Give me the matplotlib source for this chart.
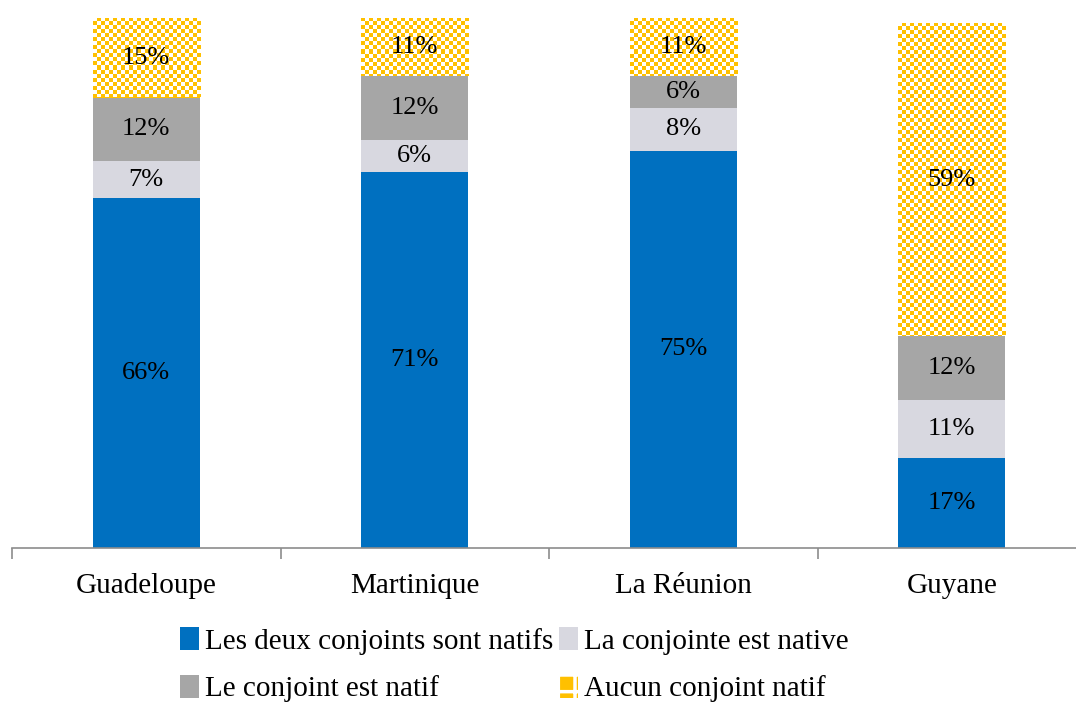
"""
Couples selon le statut de natif des conjoints, par territoire (DOM).
Barres empilées à 100 %, motif damier pour "Aucun conjoint natif".
"""
import numpy as np
import matplotlib; matplotlib.use("Agg")
import matplotlib.pyplot as plt
from matplotlib.colors import ListedColormap
from matplotlib.patches import Patch

# ── Données ────────────────────────────────────────────────────────────────────
territoires      = ["Guadeloupe", "Martinique", "La Réunion", "Guyane"]
deux_natifs      = [66, 71, 75, 17]
conjointe_native = [7, 6, 8, 11]
conjoint_natif   = [12, 12, 6, 12]
aucun_natif      = [15, 11, 11, 59]

noms = ["Les deux conjoints sont natifs", "La conjointe est native",
        "Le conjoint est natif", "Aucun conjoint natif"]
series = [deux_natifs, conjointe_native, conjoint_natif, aucun_natif]

C_BLEU  = "#0070C0"
C_CLAIR = "#D8D8E0"
C_GRIS  = "#A6A6A6"
C_JAUNE = "#FFC000"
couleurs = [C_BLEU, C_CLAIR, C_GRIS, C_JAUNE]

plt.rcParams["font.family"] = ["Liberation Serif", "DejaVu Serif"]
plt.rcParams["hatch.linewidth"] = 2.5

FS_TXT, FS_VAL = 21, 19
W, H, DPI = 1076, 702, 100
fig = plt.figure(figsize=(W / DPI, H / DPI), dpi=DPI, facecolor="white")
# l'axe déborde à droite, comme dans l'original recadré
ax = fig.add_axes([12 / W, 1 - 548 / H, 1074 / W, 530 / H])

x = np.arange(len(territoires))
bas = np.zeros(len(territoires))
conteneurs = []
for vals, nom, col in zip(series, noms, couleurs):
    bc = ax.bar(x, vals, 0.4, bottom=bas, label=nom, color=col, linewidth=0)
    conteneurs.append(bc)
    for xi, b, v in zip(x, bas, vals):
        ax.text(xi, b + v / 2, f"{v}%", ha="center", va="center",
                fontsize=FS_VAL, color="black", zorder=5)
    bas = bas + np.array(vals)

ax.set_xlim(-0.5, 3.5)
ax.set_ylim(0, 100)

# damier jaune/blanc découpé sur chaque segment "Aucun conjoint natif"
nx, ny = 1074 // 4, 530 // 4
damier = (np.add.outer(np.arange(ny), np.arange(nx)) % 2).astype(float)
cmap_d = ListedColormap(["white", C_JAUNE])
for p in conteneurs[3].patches:
    im = ax.imshow(damier, cmap=cmap_d, extent=(-0.5, 3.5, 0, 100),
                   aspect="auto", interpolation="nearest", zorder=p.get_zorder())
    im.set_clip_path(p)

# axes
for s in ["top", "right", "left"]:
    ax.spines[s].set_visible(False)
ax.spines["bottom"].set_color("#8C8C8C")
ax.spines["bottom"].set_linewidth(1.2)
ax.set_yticks([])
ax.set_xticks(x)
ax.set_xticklabels(territoires, fontsize=FS_TXT)
ax.tick_params(axis="x", which="major", length=0, pad=18)
ax.set_xticks(np.arange(-0.5, 4.0, 1.0), minor=True)
ax.tick_params(axis="x", which="minor", length=8, width=1.2, color="#8C8C8C")

# légende : remplissage par colonnes → réordonner pour lire ligne par ligne
h_aucun = Patch(facecolor=C_JAUNE, edgecolor="white", hatch="+", linewidth=0)
handles = [conteneurs[0], conteneurs[2], conteneurs[1], h_aucun]
labels = [noms[0], noms[2], noms[1], noms[3]]
fig.legend(handles, labels, loc="center", bbox_to_anchor=(0.478, 0.053),
           ncol=2, frameon=False, fontsize=FS_TXT, handlelength=0.65,
           handleheight=0.85, handletextpad=0.2, columnspacing=0.2,
           labelspacing=0.68, borderpad=0)

fig.savefig("out.png", dpi=DPI, facecolor="white")
